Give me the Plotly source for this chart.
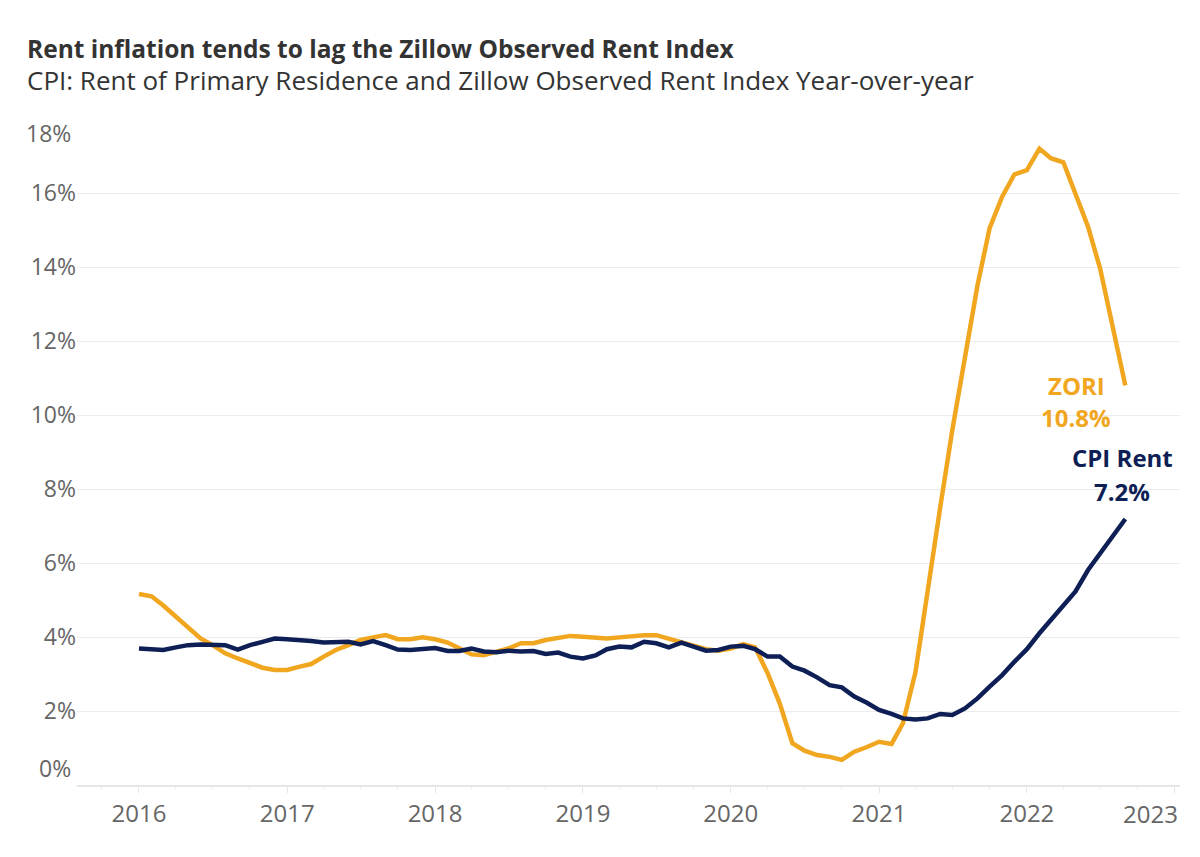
import pandas as pd
import plotly.graph_objects as go

# Monthly year-over-year change, Jan 2016 - Sep 2022 (%)
months = pd.date_range("2016-01-01", periods=81, freq="MS")

zori = [5.16, 5.10, 4.85, 4.55, 4.28, 3.96, 3.78, 3.56, 3.42, 3.29, 3.17, 3.11,
        3.11, 3.20, 3.27, 3.47, 3.65, 3.78, 3.92, 3.99, 4.05, 3.94, 3.94, 3.99,
        3.94, 3.85, 3.69, 3.53, 3.51, 3.60, 3.69, 3.83, 3.83, 3.92, 3.99, 4.03,
        4.01, 3.99, 3.96, 3.99, 4.03, 4.05, 4.05, 3.96, 3.87, 3.78, 3.67, 3.63,
        3.69, 3.81, 3.72, 3.02, 2.20, 1.13, 0.93, 0.81, 0.76, 0.68, 0.90, 1.02,
        1.17, 1.11, 1.67, 3.05, 5.30, 7.50, 9.60, 11.50, 13.50, 15.05, 15.90, 16.50,
        16.62, 17.20, 16.94, 16.83, 16.00, 15.09, 13.95, 12.40, 10.80]

cpi_rent = [3.69, 3.66, 3.65, 3.72, 3.78, 3.80, 3.78, 3.78, 3.66, 3.78, 3.87, 3.96,
            3.94, 3.92, 3.89, 3.85, 3.85, 3.87, 3.80, 3.89, 3.78, 3.66, 3.65, 3.66,
            3.70, 3.62, 3.62, 3.69, 3.61, 3.59, 3.63, 3.61, 3.62, 3.54, 3.58, 3.47,
            3.42, 3.50, 3.67, 3.74, 3.72, 3.87, 3.83, 3.72, 3.85, 3.74, 3.63, 3.65,
            3.74, 3.76, 3.67, 3.47, 3.47, 3.20, 3.09, 2.91, 2.70, 2.64, 2.39, 2.23,
            2.03, 1.92, 1.80, 1.77, 1.80, 1.92, 1.89, 2.07, 2.34, 2.66, 2.97, 3.33,
            3.67, 4.10, 4.46, 4.86, 5.23, 5.81, 6.26, 6.71, 7.19]

year_ticks = ["2016", "2017", "2018", "2019", "2020", "2021", "2022", "2023"]
pct_ticks = [0, 2, 4, 6, 8, 10, 12, 14, 16, 18]

ZORI_COLOR = "#F1A620"
CPI_COLOR = "#0E1F56"
FONT = "Open Sans"
TICK_FONT = dict(family=FONT, size=23, color="#666666")

fig = go.Figure()
fig.add_trace(go.Scatter(x=months, y=zori, mode="lines", name="ZORI",
                         line=dict(color=ZORI_COLOR, width=4.5)))
fig.add_trace(go.Scatter(x=months, y=cpi_rent, mode="lines", name="CPI Rent",
                         line=dict(color=CPI_COLOR, width=4.5)))

# inner y labels carried by the axis, the two outer ones are nudged inside
inner = pct_ticks[1:-1]
fig.update_yaxes(range=[0, 18], tickvals=pct_ticks,
                 ticktext=[""] + [f"{v}%" for v in inner] + [""],
                 showgrid=True, gridcolor="#ececec", gridwidth=1,
                 zeroline=False, showline=False, ticks="",
                 tickfont=TICK_FONT)

fig.update_xaxes(range=["2015-08-01", "2023-01-14"], type="date",
                 tickvals=[f"{y}-01-01" for y in year_ticks],
                 ticktext=year_ticks[:-1] + [""],
                 showgrid=False, zeroline=False,
                 showline=True, linecolor="#e6e6e6", linewidth=1.5,
                 ticks="outside", ticklen=6, tickcolor="#e6e6e6",
                 minor=dict(dtick="M3", ticks="outside", ticklen=3, tickcolor="#efefef"),
                 tickfont=dict(family=FONT, size=24, color="#666666"))

ann = []
ann.append(dict(text=f"{pct_ticks[-1]}%", x=-0.004, xref="paper", xanchor="right",
                y=17.62, yref="y", yanchor="middle", showarrow=False, font=TICK_FONT))
ann.append(dict(text=f"{pct_ticks[0]}%", x=-0.004, xref="paper", xanchor="right",
                y=0.46, yref="y", yanchor="middle", showarrow=False, font=TICK_FONT))
ann.append(dict(text=year_ticks[-1], x=1.0, xref="paper", xanchor="right",
                y=-0.043, yref="paper", yanchor="middle", showarrow=False,
                font=dict(family=FONT, size=24, color="#666666")))

# end-of-line labels
LABEL_SIZE = 24
ann.append(dict(text="<b>ZORI</b>", x="2022-05-03", y=10.81, xref="x", yref="y",
                showarrow=False, font=dict(family=FONT, size=LABEL_SIZE, color=ZORI_COLOR)))
ann.append(dict(text=f"<b>{zori[-1]:.1f}%</b>", x="2022-05-03", y=9.92, xref="x", yref="y",
                showarrow=False, font=dict(family=FONT, size=LABEL_SIZE, color=ZORI_COLOR)))
ann.append(dict(text="<b>CPI Rent</b>", x="2022-08-25", y=8.84, xref="x", yref="y",
                showarrow=False, font=dict(family=FONT, size=LABEL_SIZE, color=CPI_COLOR)))
ann.append(dict(text=f"<b>{cpi_rent[-1]:.1f}%</b>", x="2022-08-25", y=7.92, xref="x", yref="y",
                showarrow=False, font=dict(family=FONT, size=LABEL_SIZE, color=CPI_COLOR)))

# titles
ann.append(dict(text="<b>Rent inflation tends to lag the Zillow Observed Rent Index</b>",
                x=-0.0471, xref="paper", xanchor="left", y=1.106, yref="paper",
                yanchor="middle", showarrow=False,
                font=dict(family=FONT, size=24.5, color="#333333")))
ann.append(dict(text="CPI: Rent of Primary Residence and Zillow Observed Rent Index Year-over-year",
                x=-0.0471, xref="paper", xanchor="left", y=1.0586, yref="paper",
                yanchor="middle", showarrow=False,
                font=dict(family=FONT, size=26, color="#333333")))

# the page body adds 8px, so the margins are pulled in by that much
fig.update_layout(width=1200, height=857,
                  margin=dict(l=69, r=28, t=111, b=80),
                  plot_bgcolor="white", paper_bgcolor="white",
                  showlegend=False, annotations=ann,
                  font=dict(family=FONT))

fig.write_html("out.html")
